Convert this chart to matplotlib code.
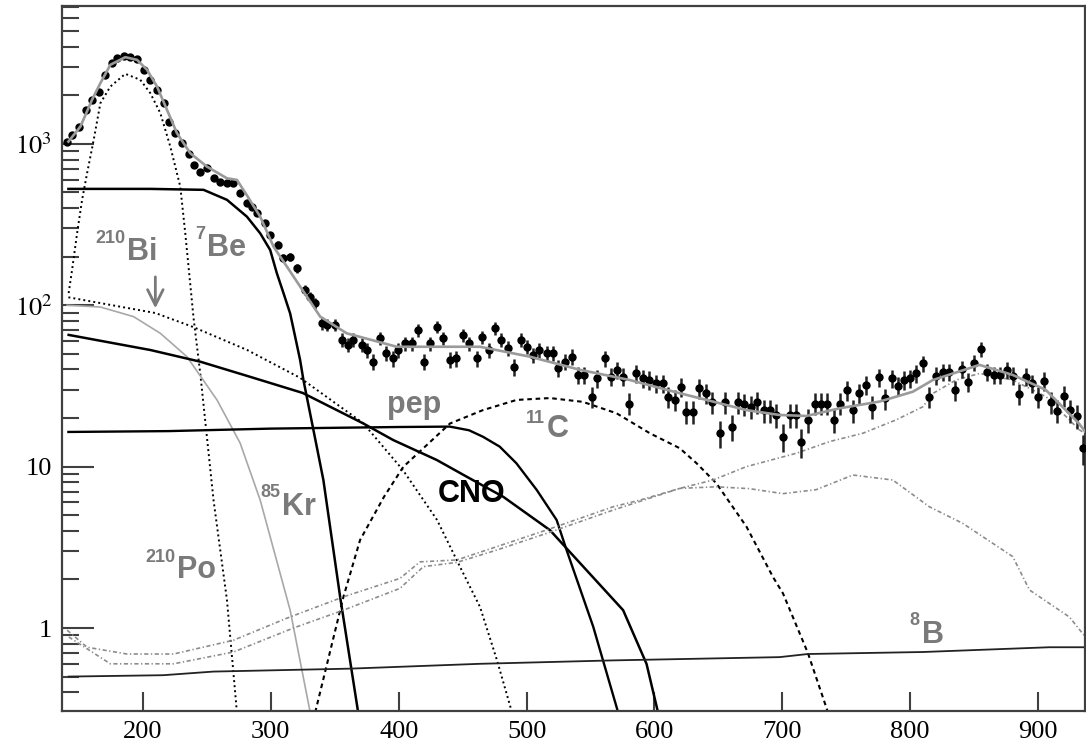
import matplotlib
matplotlib.use("Agg")
import matplotlib.pyplot as plt
import numpy as np
from matplotlib.ticker import LogLocator, NullFormatter, NullLocator

data_x = [140.7, 144.6, 149.7, 155.8, 160.2, 165.4, 170.6, 175.8, 179.7, 184.9,
          190.1, 195.4, 200.5, 205.8, 211.0, 216.1, 220.0, 225.3, 230.5, 235.7,
          239.6, 244.8, 250.0, 255.2, 260.4, 265.7, 270.8, 276.1, 281.3, 285.2,
          289.1, 295.6, 299.5, 306.0, 309.9, 315.1, 320.4, 326.8, 330.8, 334.7,
          339.9, 343.8, 350.3, 355.5, 360.7, 364.6, 371.1, 375.5, 380.2, 385.4,
          390.1, 395.8, 399.7, 405.0, 410.2, 415.4, 419.8, 424.5, 430.2, 434.9,
          440.1, 444.8, 450.5, 455.0, 461.0, 465.4, 470.8, 475.3, 479.7, 485.7,
          490.1, 495.4, 500.0, 505.2, 509.9, 515.7, 520.4, 524.7, 530.0, 535.2,
          540.4, 544.8, 550.8, 555.2, 561.2, 565.7, 570.4, 575.5, 580.2, 585.4,
          590.7, 595.8, 601.6, 606.3, 610.7, 615.9, 621.1, 625.0, 630.2, 634.9,
          640.7, 645.0, 651.1, 655.5, 661.0, 665.4, 669.8, 675.3, 680.2, 685.4,
          690.1, 695.4, 700.5, 705.8, 710.4, 714.9, 720.0, 725.3, 730.5, 735.2,
          740.4, 744.8, 750.5, 755.2, 759.9, 765.1, 769.8, 775.5, 780.5, 785.4,
          790.4, 795.0, 800.0, 804.7, 810.4, 814.6, 820.4, 825.5, 830.2, 834.9,
          840.7, 845.4, 849.8, 855.5, 860.2, 865.4, 870.3, 875.8, 880.2, 885.4,
          890.7, 895.4, 900.3, 905.0, 910.2, 914.9, 920.6, 925.1, 930.5, 934.9]
data_y = [1033, 1137, 1280, 1626, 1875, 2110, 2680, 3160, 3400, 3515,
          3445, 3350, 2877, 2495, 2160, 1786, 1375, 1165, 1010, 866,
          741, 673, 706, 612, 583, 570, 575, 494, 429, 408,
          371, 322, 273, 237, 196, 200, 169, 124, 113, 103,
          77.3, 75.5, 75.5, 61.0, 56.8, 61.0, 56.8, 52.8, 44.7, 62.4,
          50.4, 46.9, 52.8, 58.1, 58.1, 70.3, 44.7, 58.1, 73.6, 62.4,
          45.8, 46.9, 65.5, 58.1, 46.9, 63.4, 52.8, 71.9, 61.0, 54.1,
          41.6, 61.0, 55.3, 49.2, 52.8, 50.4, 50.4, 40.6, 44.7, 48.0,
          37.0, 37.0, 27.1, 35.2, 46.9, 36.1, 39.7, 36.1, 24.6, 37.8,
          35.2, 34.4, 32.8, 32.8, 27.1, 25.9, 31.3, 21.9, 21.9, 30.5,
          28.4, 25.2, 16.2, 25.2, 17.7, 25.2, 24.4, 23.5, 25.2, 22.4,
          22.4, 20.9, 15.3, 20.9, 20.9, 14.3, 19.5, 24.6, 24.6, 24.6,
          19.5, 24.6, 29.9, 22.4, 28.4, 32.1, 23.5, 35.8, 26.5, 35.2,
          31.6, 34.4, 35.2, 37.8, 43.7, 27.1, 36.5, 38.7, 38.7, 29.9,
          40.1, 33.6, 44.1, 53.3, 38.7, 37.0, 37.0, 39.7, 36.5, 28.2,
          36.1, 32.8, 27.1, 34.1, 25.2, 22.2, 27.4, 22.4, 20.6, 13.0]
ERR_SCALE = 0.77  # statistical error ~ sqrt(counts) in these units
data_err = ERR_SCALE * np.sqrt(np.array(data_y))

# total fit
fit_x = [141.7, 151.1, 160.2, 166.7, 174.5, 186.2, 195.4, 203.2, 211.0, 218.8,
         226.6, 237.0, 250.0, 265.7, 273.5, 281.3, 291.7, 302.1, 316.0, 338.6,
         359.4, 398.5, 463.6, 502.6, 541.7, 580.8, 619.8, 645.8, 671.9, 697.8,
         718.8, 745.0, 776.0, 802.0, 817.7, 854.2, 880.2, 906.0, 932.0, 937.0]
fit_y = [1033, 1280, 1875, 2377, 3090, 3445, 3316, 2877, 2265, 1626,
         1165, 875, 723, 612, 598, 480, 354, 231, 158, 85,
         67, 55.3, 55.3, 48, 39.8, 34.4, 28.5, 25.3, 22.4, 20.9,
         20.6, 23, 25.3, 29.1, 34.4, 42.7, 37, 29.9, 18.5, 16.4]

# fit components
po_x = [141.9, 144.6, 148.5, 152.4, 156.3, 161.5, 166.7, 174.5, 186.2, 197.9,
        205.8, 213.6, 221.4, 229.2, 233.1, 239.6, 244.8, 255.2, 265.7, 273.5]
po_y = [119, 166, 279, 450, 657, 1059, 1786, 2265, 2716, 2495,
        2060, 1550, 962, 543, 279, 83, 37.9, 6.2, 1.49, 0.30]

bi_x = [141.7, 209.7, 239.3, 281.5, 322.9, 372.2, 403.4, 430.0, 448.0, 463.6, 476.9, 488.6]
bi_y = [112, 89.5, 73.3, 52.8, 35.5, 18.6, 9.5, 4.67, 2.39, 1.35, 0.63, 0.30]

be7_x = [141.7, 205.8, 247.4, 265.7, 281.3, 291.7, 299.5, 304.7, 309.9, 315.1,
         319.0, 322.9, 325.5, 333.3, 341.1, 354.2, 368.3]
be7_y = [526, 526, 519, 450, 354, 279, 220, 158, 119, 89,
         64, 45.8, 34.4, 16.9, 8.26, 1.56, 0.30]

kr_x = [140.7, 166.7, 192.7, 213.6, 234.4, 257.9, 276.0, 291.7, 315.1, 330.8]
kr_y = [100, 97.5, 85, 67, 48, 25.9, 14, 6.2, 1.29, 0.30]

pep_x = [141.7, 220, 260, 300, 350, 400, 440, 455, 466, 479, 492, 508, 523.5, 531.3, 552.1, 571.6]
pep_y = [16.4, 16.6, 16.9, 17.2, 17.4, 17.6, 17.7, 16.8, 15.3, 13.3, 10.5, 7.16, 4.67, 3.04, 1.02, 0.30]

cno_x = [141.9, 205.8, 244.8, 283.9, 325.0, 372.4, 395.8, 429.7, 453.2, 481.8,
         518.3, 534.0, 575.5, 593.8, 602.8]
cno_y = [65.5, 52.8, 44.7, 36.0, 28.6, 18.5, 14.6, 11.0, 8.66, 6.5,
         4.04, 2.95, 1.29, 0.60, 0.30]

c11_x = [334.7, 356.8, 369.8, 388.5, 403.6, 440.1, 465.9, 492.2, 518.3, 544.0,
         570.4, 596.4, 619.8, 632.9, 648.5, 672.0, 692.7, 700.5, 720.0, 735.7]
c11_y = [0.30, 1.56, 3.51, 6.5, 9.97, 18.5, 22.4, 25.9, 26.6, 25.2,
         21.4, 16.1, 13.0, 10.5, 7.87, 4.24, 2.07, 1.64, 0.70, 0.30]

b8_x = [141.9, 215.9, 255.0, 362.0, 463.6, 567.7, 697.9, 720.0, 809.9, 908.9, 937.0]
b8_y = [0.50, 0.51, 0.537, 0.56, 0.60, 0.63, 0.66, 0.69, 0.71, 0.76, 0.76]

# external backgrounds (two gray dash-dot curves)
extA_x = [140.7, 156.3, 187.5, 223.9, 270.8, 312.5, 356.8, 401.0, 416.7, 445.4,
          476.6, 515.7, 567.7, 588.6, 619.8, 645.8, 671.9, 711.0, 737.0, 763.0,
          789.1, 809.9, 817.7, 835.9, 854.2, 880.2, 906.3, 932.3, 937.0]
extA_y = [0.97, 0.76, 0.69, 0.69, 0.84, 1.15, 1.56, 2.03, 2.57, 2.64,
          3.19, 4.05, 5.64, 6.2, 7.33, 8.26, 10.0, 12.1, 14.3, 16.1,
          19.5, 23.5, 28.4, 34.4, 37.8, 34.4, 27.1, 16.9, 16.0]
extB_x = [142.0, 174.5, 223.9, 270.8, 317.7, 356.8, 401.0, 419.3, 445.4, 476.6,
          515.7, 567.7, 619.8, 648.5, 674.5, 700.5, 726.5, 755.2, 786.4, 815.0,
          841.1, 880.2, 893.3, 924.5, 937.0]
extB_y = [0.88, 0.60, 0.60, 0.71, 1.0, 1.29, 1.76, 2.4, 2.55, 3.04,
          3.86, 5.38, 7.33, 7.5, 7.3, 6.8, 7.2, 8.87, 8.26, 5.64,
          4.45, 2.77, 1.72, 1.17, 0.88]

GRAY_TXT = "#7a7a7a"
AX_COL = "#404040"

plt.rcParams["mathtext.fontset"] = "stix"
plt.rcParams["font.family"] = "Liberation Serif"

fig = plt.figure(figsize=(10.86, 7.46), dpi=100)
ax = fig.add_axes([62 / 1086, 35 / 746, 1023 / 1086, 705 / 746])
ax.set_yscale("log")

dot = (0, (1, 1.6))
ax.plot(po_x, po_y, color="black", lw=1.4, linestyle=dot, zorder=2)
ax.plot(bi_x, bi_y, color="black", lw=1.4, linestyle=dot, zorder=2)
ax.plot(c11_x, c11_y, color="black", lw=1.5, linestyle=(0, (2.2, 1.8)), zorder=2)
ax.plot(kr_x, kr_y, color="#a8a8a8", lw=1.2, zorder=2)
ax.plot(be7_x, be7_y, color="black", lw=1.8, zorder=2)
ax.plot(pep_x, pep_y, color="black", lw=1.7, zorder=2)
ax.plot(cno_x, cno_y, color="black", lw=1.8, zorder=2)
ax.plot(b8_x, b8_y, color="#222222", lw=1.3, zorder=2)
dashdot = (0, (2.5, 1.5, 0.8, 1.5))
ax.plot(extA_x, extA_y, color="#8c8c8c", lw=1.2, linestyle=dashdot, zorder=2)
ax.plot(extB_x, extB_y, color="#8c8c8c", lw=1.2, linestyle=dashdot, zorder=2)

ax.errorbar(data_x, data_y, yerr=data_err, fmt="o", ms=5, color="black",
            ecolor="#222222", elinewidth=1.8, capsize=0, zorder=4)
ax.plot(fit_x, fit_y, color="#9a9a9a", lw=1.9, zorder=5)


def iso_label(x, y, sup, main, color, dy=12):
    ax.text(x, y, main, fontsize=22, fontweight="bold", family="Liberation Sans",
            color=color, ha="left", va="baseline", zorder=6)
    if sup:
        ax.annotate(sup, xy=(x, y), xytext=(-1.5, dy), textcoords="offset points",
                    fontsize=13, fontweight="bold", family="Liberation Sans",
                    color=color, ha="right", va="baseline", zorder=6)


iso_label(187.8, 191, "210", "Bi", GRAY_TXT)
iso_label(250.3, 202, "7", "Be", GRAY_TXT)
iso_label(390.9, 21.5, "", "pep", GRAY_TXT)
iso_label(515.9, 15.2, "11", "C", GRAY_TXT, dy=10)
iso_label(430.8, 6.03, "", "CNO", "black")
iso_label(308.9, 5.01, "85", "Kr", GRAY_TXT, dy=13)
iso_label(226.8, 2.04, "210", "Po", GRAY_TXT, dy=11.5)
iso_label(808.9, 0.806, "8", "B", GRAY_TXT, dy=13)

ax.annotate("", xy=(209.7, 92), xytext=(209.7, 156),
            arrowprops=dict(arrowstyle="->", color=GRAY_TXT, lw=2, mutation_scale=28))

ax.set_xlim(136.7, 936.7)
ax.set_ylim(0.306, 7150)

ax.set_xticks([200, 300, 400, 500, 600, 700, 800, 900])
ax.xaxis.set_minor_locator(NullLocator())
ax.set_yticks([1, 10, 100, 1000], ["1", "10", r"$10^{2}$", r"$10^{3}$"])
ax.yaxis.set_minor_locator(LogLocator(base=10, subs=np.arange(2, 10)))
ax.yaxis.set_minor_formatter(NullFormatter())

ax.tick_params(which="both", direction="in", top=False, right=False,
               color=AX_COL, width=1.5, labelsize=19)
ax.tick_params(axis="x", which="major", length=14, pad=7)
ax.tick_params(axis="y", which="major", length=23, pad=7)
ax.tick_params(axis="y", which="minor", length=12)
for s in ax.spines.values():
    s.set_color(AX_COL)
    s.set_linewidth(1.6)

fig.savefig("out.png", dpi=100)
